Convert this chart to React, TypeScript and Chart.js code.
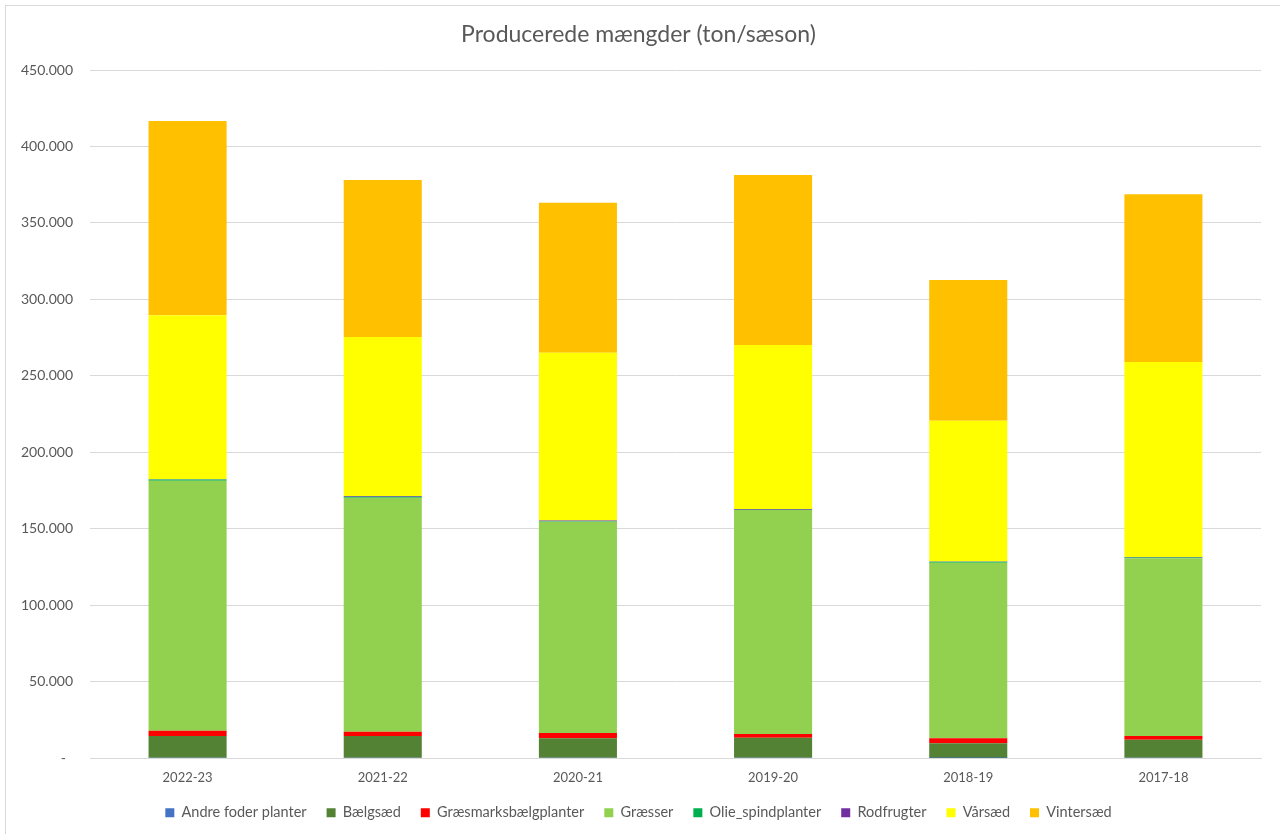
import React, { useEffect, useRef } from "react";
import { Chart, registerables } from "chart.js";

Chart.register(...registerables);

const categories = ["2022-23", "2021-22", "2020-21", "2019-20", "2018-19", "2017-18"];

const andreFoderPlanter = [100, 150, 120, 100, 80, 100];
const baelgsaed = [14300, 14250, 12780, 13200, 9520, 11900];
const graesmarksbaelgplanter = [3500, 2800, 3500, 2400, 3300, 2400];
const graesser = [163500, 153100, 138200, 146500, 114800, 116200];
const olieSpindplanter = [700, 500, 200, 200, 600, 500];
const rodfrugter = [300, 600, 500, 500, 200, 300];
const vaarsaed = [107200, 103900, 109800, 107200, 92100, 127600];
const vintersaed = [127100, 102700, 98100, 111200, 92000, 109700];

const seriesNames = [
  "Andre foder planter",
  "Bælgsæd",
  "Græsmarksbælgplanter",
  "Græsser",
  "Olie_spindplanter",
  "Rodfrugter",
  "Vårsæd",
  "Vintersæd",
];
const seriesColors = ["#4472C4", "#548235", "#FF0000", "#92D050", "#00B050", "#7030A0", "#FFFF00", "#FFC000"];
const seriesData = [
  andreFoderPlanter,
  baelgsaed,
  graesmarksbaelgplanter,
  graesser,
  olieSpindplanter,
  rodfrugter,
  vaarsaed,
  vintersaed,
];

const TEXT = "#595959";
const GRID = "#D9D9D9";
const FONT = "Lato, 'Open Sans', sans-serif";

function fmt(v: number): string {
  if (v === 0) return "-  ";
  return String(Math.round(v)).replace(/\B(?=(\d{3})+(?!\d))/g, ".");
}

const bgPlugin = {
  id: "bgBorder",
  beforeDraw(chart: any) {
    const ctx = chart.ctx;
    ctx.save();
    ctx.fillStyle = "#FFFFFF";
    ctx.fillRect(0, 0, chart.width, chart.height);
    ctx.strokeStyle = GRID;
    ctx.lineWidth = 1;
    ctx.strokeRect(5.5, 5.5, chart.width + 20, chart.height + 20);
    ctx.restore();
  },
};

export default function App() {
  const ref = useRef<HTMLCanvasElement | null>(null);

  useEffect(() => {
    if (!ref.current) return;
    const chart = new Chart(ref.current, {
      type: "bar",
      data: {
        labels: categories,
        datasets: seriesNames.map((name, i) => ({
          label: name,
          data: seriesData[i],
          backgroundColor: seriesColors[i],
          borderWidth: 0,
          categoryPercentage: 0.4,
          barPercentage: 1.0,
        })),
      },
      options: {
        animation: false,
        responsive: false,
        devicePixelRatio: 1,
        layout: { padding: { left: 16, right: 19, top: 0, bottom: 4 } },
        plugins: {
          title: {
            display: true,
            text: "Producerede mængder (ton/sæson)",
            color: TEXT,
            font: { family: FONT, size: 23, weight: "normal" },
            padding: { top: 21, bottom: 21.4 },
          },
          legend: {
            position: "bottom",
            labels: {
              color: TEXT,
              font: { family: FONT, size: 14.5 },
              boxWidth: 9,
              boxHeight: 9,
              padding: 20,
            },
          },
          tooltip: { enabled: false },
        },
        scales: {
          x: {
            stacked: true,
            grid: { display: false, drawTicks: false },
            border: { display: true, color: GRID, width: 1 },
            ticks: { color: TEXT, font: { family: FONT, size: 13 }, padding: 12 },
            afterFit(scale: any) {
              scale.height = 27.5;
            },
          },
          y: {
            stacked: true,
            min: 0,
            max: 450000,
            grid: { color: GRID, drawTicks: false },
            border: { display: false },
            ticks: {
              stepSize: 50000,
              color: TEXT,
              font: { family: FONT, size: 14 },
              padding: 17,
              callback: (v: any) => fmt(Number(v)),
            },
            afterFit(scale: any) {
              scale.width = 74;
            },
          },
        },
      },
      plugins: [bgPlugin],
    });
    return () => chart.destroy();
  }, []);

  return (
    <div style={{ position: "fixed", left: 0, top: 0, width: 1280, height: 834, background: "#fff" }}>
      <canvas ref={ref} width={1280} height={834} style={{ width: 1280, height: 834, display: "block" }} />
    </div>
  );
}
